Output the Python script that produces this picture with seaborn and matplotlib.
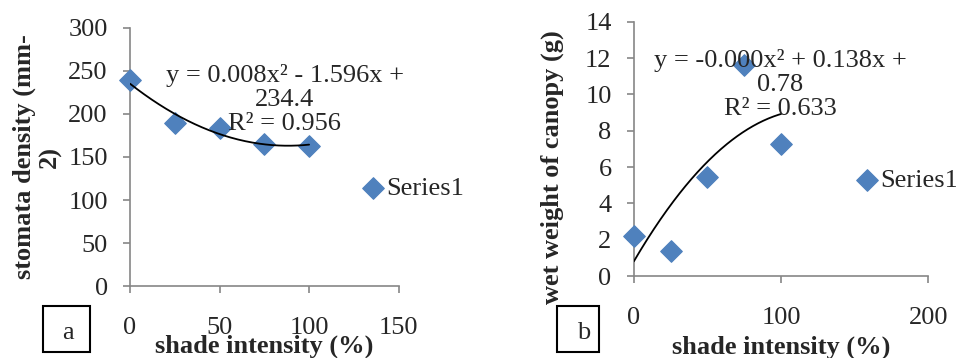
import numpy as np
import pandas as pd
import matplotlib.pyplot as plt
import seaborn as sns
from matplotlib.patches import Rectangle

shade = [0, 25, 50, 75, 100]
stomata = [239, 190, 184, 165, 163]
wet_weight = [2.2, 1.4, 5.45, 11.6, 7.25]

eq_a = "y = 0.008x² - 1.596x +\n234.4\nR² = 0.956"
eq_b = "y = -0.000x² + 0.138x +\n0.78\nR² = 0.633"

sns.set_theme(style="white")
plt.rcParams['font.family'] = ['Liberation Serif', 'DejaVu Serif']

BLUE = "#4F81BD"
GREY = "#868686"
FS = 19

fig = plt.figure(figsize=(9.56, 3.58), dpi=100)
ax_a = fig.add_axes([0.136, 0.201, 0.281, 0.721])
ax_b = fig.add_axes([0.663, 0.229, 0.308, 0.710])


def panel(ax, x, y, xlim, xticks, ylim, yticks, eq, eq_pos, leg_pos):
    df = pd.DataFrame({"x": x, "y": y})
    sns.scatterplot(data=df, x="x", y="y", ax=ax, marker="D", s=120,
                    color=BLUE, edgecolor=BLUE, label="Series1",
                    clip_on=False, zorder=3)
    # quadratic trendline fitted to the points
    coef = np.polyfit(x, y, 2)
    xs = np.linspace(min(x), max(x), 200)
    sns.lineplot(x=xs, y=np.polyval(coef, xs), ax=ax, color="black",
                 lw=1.3, zorder=4)
    ax.set_xlim(*xlim)
    ax.set_ylim(*ylim)
    ax.set_xticks(xticks)
    ax.set_yticks(yticks)
    ax.set_xlabel("")
    ax.set_ylabel("")
    for s in ["top", "right"]:
        ax.spines[s].set_visible(False)
    for s in ["left", "bottom"]:
        ax.spines[s].set_color(GREY)
        ax.spines[s].set_linewidth(1.2)
    ax.tick_params(axis="y", direction="out", length=5, width=1.2,
                   color=GREY, labelsize=FS, pad=11, left=True)
    ax.tick_params(axis="x", direction="out", length=5, width=1.2,
                   color=GREY, labelsize=FS, pad=17, bottom=True)
    ax.text(eq_pos[0], eq_pos[1], eq, transform=ax.transAxes, ha="center",
            va="center", fontsize=FS, linespacing=1.12, zorder=5)
    ax.legend(loc="center left", bbox_to_anchor=leg_pos, frameon=False,
              fontsize=FS, handlelength=0.8, handletextpad=0.1,
              borderpad=0, borderaxespad=0, markerscale=1.0)


panel(ax_a, shade, stomata, (0, 150), [0, 50, 100, 150], (0, 300),
      range(0, 301, 50), eq_a, (0.576, 0.721), (0.866, 0.38))
panel(ax_b, shade, wet_weight, (0, 200), [0, 100, 200], (0, 14),
      range(0, 15, 2), eq_b, (0.497, 0.752), (0.755, 0.378))

# axis titles
fig.text(37 / 956, 1 - 157 / 358, "stomata density (mm-\n2)", rotation=90,
         ha="center", va="center", fontsize=FS, fontweight="bold",
         multialignment="center", linespacing=1.15)
fig.text(552 / 956, 1 - 167 / 358, "wet weight of canopy (g)", rotation=90,
         ha="center", va="center", fontsize=FS, fontweight="bold")
fig.text(264 / 956, 1 - 346 / 358, "shade intensity (%)", ha="center",
         va="center", fontsize=FS, fontweight="bold")
fig.text(781 / 956, 1 - 347 / 358, "shade intensity (%)", ha="center",
         va="center", fontsize=FS, fontweight="bold")

# boxed panel letters
for x0, w, letter, cx in [(43, 47, "a", 68), (557, 42, "b", 584)]:
    fig.add_artist(Rectangle((x0 / 956, 1 - 352 / 358), w / 956, 46 / 358,
                             transform=fig.transFigure, fill=False,
                             edgecolor="black", lw=1.5))
    fig.text(cx / 956, 1 - 333 / 358, letter, ha="center", va="center",
             fontsize=FS)

fig.savefig("out.png", dpi=100)
